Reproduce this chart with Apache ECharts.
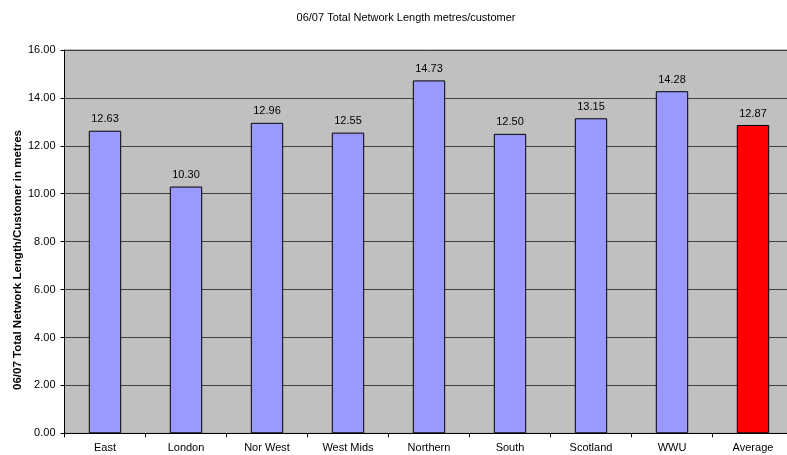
<!DOCTYPE html>
<html>
<head>
<meta charset="utf-8">
<script src="https://cdn.jsdelivr.net/npm/echarts@6/dist/echarts.min.js"></script>
<style>
html,body{margin:0;padding:0;background:#fff;}
#chart{width:787px;height:455px;}
</style>
</head>
<body>
<div id="chart"></div>
<script>
// Network length per customer by distribution network, 2006/07
var categories = ['East', 'London', 'Nor West', 'West Mids', 'Northern', 'South', 'Scotland', 'WWU', 'Average'];
var lengthPerCustomer = [12.63, 10.30, 12.96, 12.55, 14.73, 12.50, 13.15, 14.28, 12.87];
var yTicks = { min: 0, max: 16, interval: 2 };

var chart = echarts.init(document.getElementById('chart'));

var barData = lengthPerCustomer.map(function (v, i) {
  var isAvg = categories[i] === 'Average';
  return {
    value: v,
    itemStyle: { color: isAvg ? '#ff0000' : '#9999ff' }
  };
});

chart.setOption({
  animation: false,
  backgroundColor: '#ffffff',
  textStyle: { fontFamily: 'Liberation Sans, Arial, sans-serif' },
  title: {
    text: '06/07 Total Network Length metres/customer',
    left: 401,
    textAlign: 'center',
    top: 7,
    textStyle: { fontSize: 11, fontWeight: 'normal', color: '#000' }
  },
  // rotated value-axis title
  graphic: [{
    type: 'text',
    x: 18,
    y: 260,
    rotation: Math.PI / 2,
    style: {
      text: '06/07 Total Network Length/Customer in metres',
      font: 'bold 11.5px Liberation Sans, Arial, sans-serif',
      fill: '#000',
      align: 'center',
      verticalAlign: 'middle'
    }
  }],
  grid: {
    left: 64.5,
    width: 729,
    top: 50,
    bottom: 21.7,
    show: true,
    backgroundColor: '#c0c0c0',
    borderColor: '#808080',
    borderWidth: 1,
    containLabel: false,
    outerBoundsMode: 'none'
  },
  xAxis: {
    type: 'category',
    data: categories,
    axisLine: { lineStyle: { color: '#000', width: 1 } },
    axisTick: { show: true, length: 4, alignWithLabel: false, lineStyle: { color: '#000' } },
    axisLabel: { color: '#000', fontSize: 11, margin: 9, interval: 0 },
    splitLine: { show: false }
  },
  yAxis: {
    type: 'value',
    min: yTicks.min,
    max: yTicks.max,
    interval: yTicks.interval,
    axisLine: { show: true, lineStyle: { color: '#000', width: 1 } },
    axisTick: { show: true, length: 4, inside: false, lineStyle: { color: '#000' } },
    axisLabel: {
      color: '#000', fontSize: 11, margin: 9,
      formatter: function (v) { return v.toFixed(2); }
    },
    splitLine: { show: true, lineStyle: { color: '#404040', width: 1 } }
  },
  series: [{
    type: 'bar',
    data: barData,
    barWidth: '40%',
    itemStyle: { borderColor: '#000', borderWidth: 1 },
    label: {
      show: true,
      position: 'top',
      distance: 6,
      color: '#000',
      fontSize: 11,
      formatter: function (p) { return p.value.toFixed(2); }
    }
  }]
});
</script>
</body>
</html>
